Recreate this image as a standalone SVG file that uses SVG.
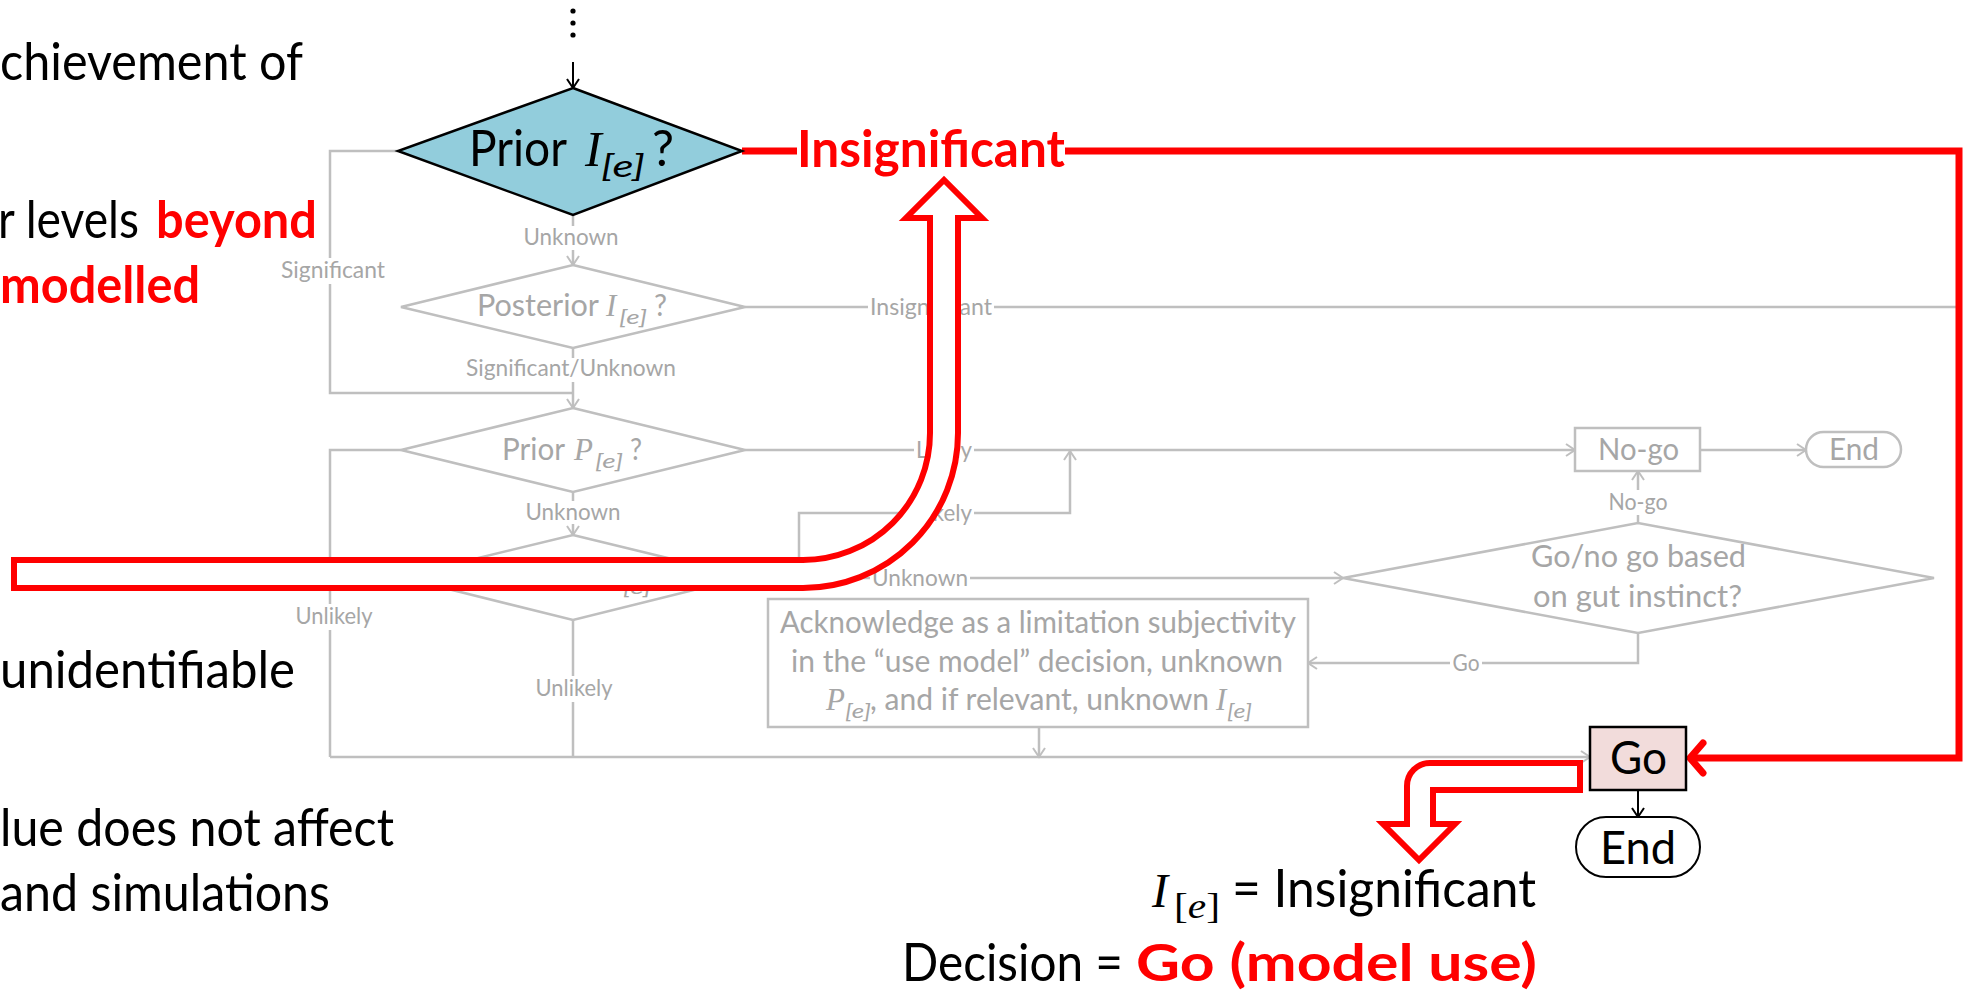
<svg xmlns="http://www.w3.org/2000/svg" width="1972" height="994" viewBox="0 0 1972 994">
<style>
  .sans { font-family: Lato, 'Open Sans', sans-serif; }
  .big { font-family: Lato, 'Open Sans', sans-serif; font-size: 52px; fill: #000000; }
  .bigred { font-family: Lato, 'Open Sans', sans-serif; font-size: 52px; font-weight: bold; fill: #FF0000; }
  .ln { fill: none; stroke: #BFBFBF; stroke-width: 2.5; }
  .gbox { fill: #FFFFFF; stroke: #BFBFBF; stroke-width: 2.5; }
  .gtxt { font-family: Lato, 'Open Sans', sans-serif; font-size: 31px; fill: #A6A6A6; }
  .glab { font-family: Lato, 'Open Sans', sans-serif; font-size: 23px; fill: #A6A6A6; text-anchor: middle; }
  .lbg { fill: #FFFFFF; stroke: none; }
  .gmath { font-family: 'Liberation Serif', 'DejaVu Serif', serif; font-style: italic; font-size: 31px; fill: #A6A6A6; }
  .gsub { font-family: Lato, 'Open Sans', sans-serif; font-style: italic; font-size: 20px; fill: #A6A6A6; }
  .kln { fill: none; stroke: #000000; stroke-width: 2; }
  .red { fill: none; stroke: #FF0000; stroke-width: 7; }
  .hollow { fill: #FFFFFF; stroke: #FF0000; stroke-width: 6; stroke-linejoin: miter; }
</style>
<defs>
  <marker id="ag" viewBox="-11 -8 13 16" refX="0" refY="0" markerWidth="13" markerHeight="16" markerUnits="userSpaceOnUse" orient="auto">
    <path d="M-9,-6 L0,0 L-9,6" fill="none" stroke="#BFBFBF" stroke-width="2"/>
  </marker>
  <marker id="ak" viewBox="-11 -8 13 16" refX="0" refY="0" markerWidth="13" markerHeight="16" markerUnits="userSpaceOnUse" orient="auto">
    <path d="M-9,-6 L0,0 L-9,6" fill="none" stroke="#000000" stroke-width="2"/>
  </marker>
</defs>

<!-- left-hand slide text (cut at the left edge) -->
<g id="side-text">
  <text class="big" x="0" y="80" textLength="303" lengthAdjust="spacingAndGlyphs">chievement of</text>
  <text class="big" x="-2" y="238" textLength="141" lengthAdjust="spacingAndGlyphs">r levels</text>
  <text class="bigred" x="156" y="238" textLength="161" lengthAdjust="spacingAndGlyphs">beyond</text>
  <text class="bigred" x="0" y="303" textLength="200" lengthAdjust="spacingAndGlyphs">modelled</text>
  <text class="big" x="0" y="688" textLength="295" lengthAdjust="spacingAndGlyphs">unidentifiable</text>
  <text class="big" x="0" y="846" textLength="394" lengthAdjust="spacingAndGlyphs">lue does not affect</text>
  <text class="big" x="0" y="911" textLength="330" lengthAdjust="spacingAndGlyphs">and simulations</text>
</g>

<!-- connectors -->
<g id="connectors">
  <!-- incoming ellipsis and arrow -->
  <circle cx="573" cy="11" r="2.6" fill="#000"/>
  <circle cx="573" cy="23" r="2.6" fill="#000"/>
  <circle cx="573" cy="35" r="2.6" fill="#000"/>
  <path class="kln" d="M573,62 V88" marker-end="url(#ak)"/>

  <path class="ln" d="M398,151 H330 V393 H573"/>
  <path class="ln" d="M573,215 V265" marker-end="url(#ag)"/>
  <path class="ln" d="M573,348 V408" marker-end="url(#ag)"/>
  <path class="ln" d="M745,307 H1956"/>
  <path class="ln" d="M401,450 H330 V757"/>
  <path class="ln" d="M745,450 H1575" marker-end="url(#ag)"/>
  <path class="ln" d="M573,492 V535" marker-end="url(#ag)"/>
  <path class="ln" d="M746,577 H799 V513 H1070 V451" marker-end="url(#ag)"/>
  <path class="ln" d="M746,578 H1343" marker-end="url(#ag)"/>
  <path class="ln" d="M573,620 V757"/>
  <path class="ln" d="M330,757 H1590" marker-end="url(#ag)"/>
  <path class="ln" d="M1039,727 V757" marker-end="url(#ag)"/>
  <path class="ln" d="M1638,633 V663 H1308" marker-end="url(#ag)"/>
  <path class="ln" d="M1638,523 V471" marker-end="url(#ag)"/>
  <path class="ln" d="M1700,450 H1806" marker-end="url(#ag)"/>
  <path class="kln" d="M1638,790 V817" marker-end="url(#ak)"/>

  <!-- branch labels -->
  <g id="labels">
    <rect class="lbg" x="519" y="226" width="104" height="24"/>
    <text class="glab" x="571" y="245" textLength="95" lengthAdjust="spacingAndGlyphs">Unknown</text>
    <rect class="lbg" x="279" y="258" width="108" height="26"/>
    <text class="glab" x="333" y="278" textLength="104" lengthAdjust="spacingAndGlyphs">Significant</text>
    <rect class="lbg" x="463" y="358" width="216" height="24"/>
    <text class="glab" x="571" y="376" textLength="210" lengthAdjust="spacingAndGlyphs">Significant/Unknown</text>
    <rect class="lbg" x="868" y="295" width="126" height="24"/>
    <text class="glab" x="931" y="315" textLength="122" lengthAdjust="spacingAndGlyphs">Insignificant</text>
    <rect class="lbg" x="914" y="438" width="60" height="24"/>
    <text class="glab" x="944" y="458" textLength="56" lengthAdjust="spacingAndGlyphs">Likely</text>
    <rect class="lbg" x="523" y="501" width="100" height="23"/>
    <text class="glab" x="573" y="520" textLength="95" lengthAdjust="spacingAndGlyphs">Unknown</text>
    <rect class="lbg" x="914" y="501" width="60" height="24"/>
    <text class="glab" x="944" y="521" textLength="56" lengthAdjust="spacingAndGlyphs">Likely</text>
    <rect class="lbg" x="870" y="566" width="100" height="24"/>
    <text class="glab" x="920" y="586" textLength="96" lengthAdjust="spacingAndGlyphs">Unknown</text>
    <rect class="lbg" x="294" y="604" width="81" height="26"/>
    <text class="glab" x="334" y="624" textLength="77" lengthAdjust="spacingAndGlyphs">Unlikely</text>
    <rect class="lbg" x="534" y="676" width="81" height="26"/>
    <text class="glab" x="574" y="696" textLength="77" lengthAdjust="spacingAndGlyphs">Unlikely</text>
    <rect class="lbg" x="1606" y="490" width="63" height="25"/>
    <text class="glab" x="1638" y="510" textLength="59" lengthAdjust="spacingAndGlyphs">No-go</text>
    <rect class="lbg" x="1450" y="651" width="32" height="24"/>
    <text class="glab" x="1466" y="671" textLength="27" lengthAdjust="spacingAndGlyphs">Go</text>
  </g>

  <!-- highlighted route: Insignificant straight to Go -->
  <path class="red" d="M742,151 H797"/>
  <path class="red" d="M1065,151 H1959 V758 H1692"/>
  <path d="M1703,743 L1690,758 L1703,773" fill="none" stroke="#FF0000" stroke-width="7" stroke-linecap="round"/>
</g>

<!-- decision: prior impact -->
<g id="prior-impact">
  <polygon points="573,88 742,151 573,215 398,151" fill="#92CDDC" stroke="#000" stroke-width="2.5"/>
  <text class="sans" x="469" y="166" font-size="50" fill="#000" textLength="98" lengthAdjust="spacingAndGlyphs">Prior</text>
  <text x="585" y="166" font-family="'Liberation Serif', 'DejaVu Serif', serif" font-style="italic" font-size="50" fill="#000">I</text>
  <text class="sans" x="601" y="177" font-size="31" font-style="italic" fill="#000" textLength="44" lengthAdjust="spacingAndGlyphs">[e]</text>
  <text class="sans" x="652" y="166" font-size="50" fill="#000" textLength="22" lengthAdjust="spacingAndGlyphs">?</text>
</g>
<text class="bigred" x="797" y="167" font-size="53" textLength="268" lengthAdjust="spacingAndGlyphs">Insignificant</text>

<!-- decision: posterior impact -->
<g id="posterior-impact">
  <polygon class="gbox" points="573,265 745,307 573,348 401,307"/>
  <text class="gtxt" x="477" y="316" textLength="122" lengthAdjust="spacingAndGlyphs">Posterior</text>
  <text class="gmath" x="606" y="316">I</text>
  <text class="gsub" x="619" y="324" textLength="28" lengthAdjust="spacingAndGlyphs">[e]</text>
  <text class="gtxt" x="654" y="316" textLength="13" lengthAdjust="spacingAndGlyphs">?</text>
</g>

<!-- decision: prior probability -->
<g id="prior-probability">
  <polygon class="gbox" points="573,408 745,450 573,492 401,450"/>
  <text class="gtxt" x="502" y="460" textLength="63" lengthAdjust="spacingAndGlyphs">Prior</text>
  <text class="gmath" x="574" y="460">P</text>
  <text class="gsub" x="595" y="468" textLength="28" lengthAdjust="spacingAndGlyphs">[e]</text>
  <text class="gtxt" x="630" y="460" textLength="12" lengthAdjust="spacingAndGlyphs">?</text>
</g>

<!-- decision: posterior probability -->
<g id="posterior-probability">
  <polygon class="gbox" points="573,535 746,577 573,620 400,577"/>
  <text class="gtxt" x="477" y="586" textLength="122" lengthAdjust="spacingAndGlyphs">Posterior</text>
  <text class="gmath" x="603" y="586">P</text>
  <text class="gsub" x="623" y="594" textLength="28" lengthAdjust="spacingAndGlyphs">[e]</text>
  <text class="gtxt" x="657" y="586" textLength="12" lengthAdjust="spacingAndGlyphs">?</text>
</g>

<!-- process: acknowledge limitation -->
<g id="acknowledge">
  <rect class="gbox" x="768" y="599" width="540" height="128"/>
  <text class="gtxt" x="780" y="633" textLength="516" lengthAdjust="spacingAndGlyphs">Acknowledge as a limitation subjectivity</text>
  <text class="gtxt" x="791" y="672" textLength="492" lengthAdjust="spacingAndGlyphs">in the “use model” decision, unknown</text>
  <text class="gmath" x="826" y="710">P</text>
  <text class="gsub" x="845" y="718" textLength="26" lengthAdjust="spacingAndGlyphs">[e]</text>
  <text class="gtxt" x="870" y="710" textLength="339" lengthAdjust="spacingAndGlyphs">, and if relevant, unknown</text>
  <text class="gmath" x="1216" y="710">I</text>
  <text class="gsub" x="1227" y="718" textLength="25" lengthAdjust="spacingAndGlyphs">[e]</text>
</g>

<!-- decision: gut instinct -->
<g id="gut-instinct">
  <polygon class="gbox" points="1343,578 1638,523 1934,578 1638,633"/>
  <text class="gtxt" x="1531" y="567" textLength="215" lengthAdjust="spacingAndGlyphs">Go/no go based</text>
  <text class="gtxt" x="1533" y="607" textLength="209" lengthAdjust="spacingAndGlyphs">on gut instinct?</text>
</g>

<!-- outcome: no-go -->
<g id="no-go">
  <rect class="gbox" x="1575" y="428" width="125" height="43"/>
  <text class="gtxt" x="1598" y="460" textLength="81" lengthAdjust="spacingAndGlyphs">No-go</text>
</g>
<g id="end-no-go">
  <rect class="gbox" x="1806" y="432" width="95" height="35" rx="17.5"/>
  <text class="gtxt" x="1829" y="460" textLength="50" lengthAdjust="spacingAndGlyphs">End</text>
</g>

<!-- outcome: go -->
<g id="go">
  <rect x="1590" y="727" width="96" height="63" fill="#F2DCDB" stroke="#000" stroke-width="2.5"/>
  <text class="sans" x="1610" y="774" font-size="47" fill="#000" textLength="57" lengthAdjust="spacingAndGlyphs">Go</text>
</g>
<g id="end-go">
  <rect x="1576" y="817" width="124" height="60" rx="30" fill="#FFFFFF" stroke="#000" stroke-width="2"/>
  <text class="sans" x="1600" y="864" font-size="47" fill="#000" textLength="76" lengthAdjust="spacingAndGlyphs">End</text>
</g>

<!-- hollow pointer arrows -->
<g id="pointer-up">
  <path class="hollow" d="M14,560 L803,560 A127,127 0 0 0 930,433 L930,218 L906,218 L944,180 L982,218 L958,218 L958,433 A155,155 0 0 1 803,588 L14,588 Z"/>
</g>
<g id="pointer-down">
  <path class="hollow" d="M1580,763 L1430,763 A23,23 0 0 0 1407,786 L1407,824 L1383,824 L1419,860 L1455,824 L1433,824 L1433,790 L1580,790 Z"/>
</g>

<!-- result -->
<g id="result">
  <text x="1152" y="907" font-family="'Liberation Serif', 'DejaVu Serif', serif" font-style="italic" font-size="48" fill="#000">I</text>
  <text x="1174" y="918" font-family="'Liberation Serif', 'DejaVu Serif', serif" font-size="35" fill="#000" textLength="46" lengthAdjust="spacingAndGlyphs">[<tspan font-style="italic">e</tspan>]</text>
  <text class="big" x="1232" y="907" textLength="304" lengthAdjust="spacingAndGlyphs">= Insignificant</text>
  <text class="big" x="902" y="981" textLength="221" lengthAdjust="spacingAndGlyphs">Decision =</text>
  <text class="bigred" x="1136" y="981" font-size="62" textLength="401" lengthAdjust="spacingAndGlyphs">Go (model use)</text>
</g>
</svg>
